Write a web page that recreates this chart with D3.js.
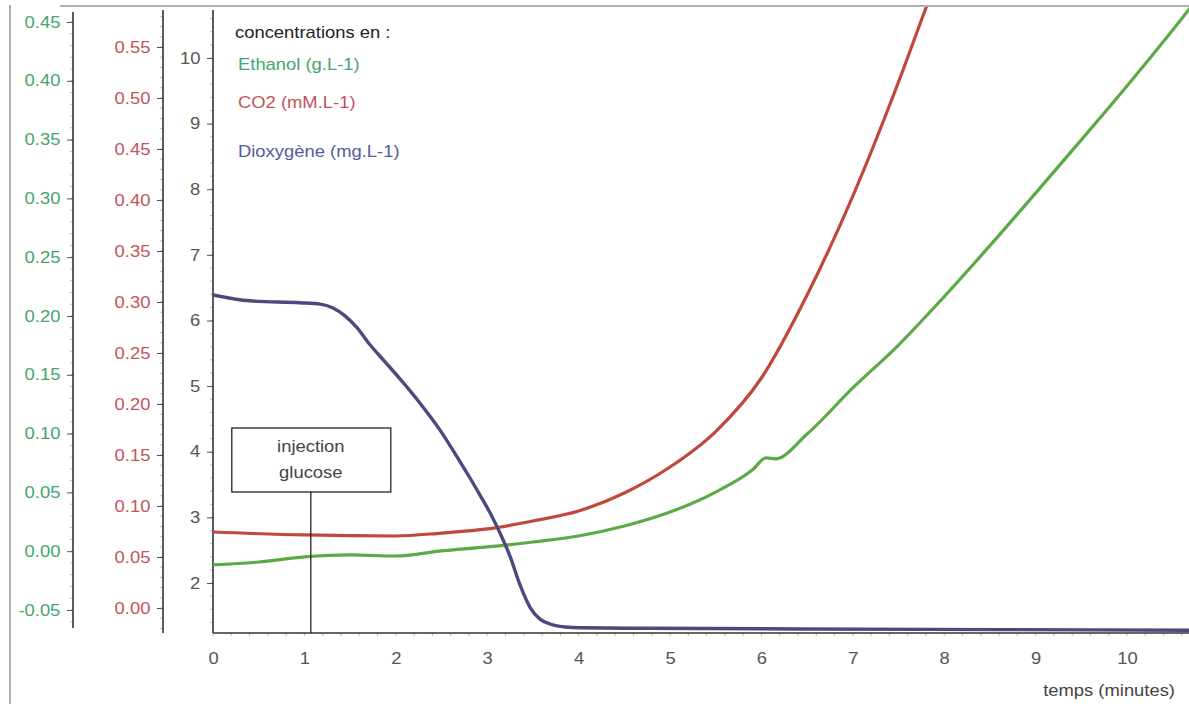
<!DOCTYPE html>
<html>
<head>
<meta charset="utf-8">
<script src="https://cdn.jsdelivr.net/npm/d3@7"></script>
<style>
  body { margin: 0; background: #fff; }
  text { font-family: "Liberation Sans", Arial, sans-serif; }
</style>
</head>
<body>
<svg id="chart" width="1189" height="704"></svg>
<script>
// values
const o2Time = [0, 0.405, 0.952, 1.171, 1.313, 1.444, 1.575, 1.718, 1.882, 2.046, 2.265, 2.484, 2.702, 2.812, 2.921, 3.031, 3.140, 3.249, 3.359, 3.468, 3.578, 3.687, 3.851, 4.015, 4.78, 6.42, 8.61, 10.7];
const o2Values = [6.39, 6.30, 6.27, 6.25, 6.19, 6.07, 5.89, 5.63, 5.37, 5.11, 4.74, 4.33, 3.85, 3.60, 3.34, 3.07, 2.76, 2.41, 1.97, 1.63, 1.45, 1.375, 1.33, 1.317, 1.31, 1.30, 1.29, 1.28];

const co2Time = [0, 1, 2, 2.5, 3, 3.5, 4, 4.5, 5, 5.5, 6, 6.5, 7, 7.5, 7.8, 8];
const co2Values = [0.0745, 0.0716, 0.0706, 0.0735, 0.0775, 0.0853, 0.0951, 0.1127, 0.1382, 0.173, 0.2255, 0.3069, 0.4039, 0.5157, 0.5882, 0.635];

const ethTime = [0, 0.5, 1, 1.5, 2, 2.5, 3, 3.5, 4, 4.5, 5, 5.5, 5.9, 6.05, 6.15, 6.5, 7, 7.5, 8, 8.5, 9, 9.5, 10, 10.5, 10.7];
const ethValues = [-0.0117, -0.0092, -0.0049, -0.0032, -0.0041, 0.0002, 0.0036, 0.0078, 0.0129, 0.0214, 0.0333, 0.0503, 0.0690, 0.0793, 0.0785, 0.0997, 0.1388, 0.1753, 0.2165, 0.2598, 0.3045, 0.3498, 0.3956, 0.4432, 0.4628];

const xTicks = [0, 1, 2, 3, 4, 5, 6, 7, 8, 9, 10];
const o2Ticks = [2, 3, 4, 5, 6, 7, 8, 9, 10];
const co2Ticks = [0, 0.05, 0.10, 0.15, 0.20, 0.25, 0.30, 0.35, 0.40, 0.45, 0.50, 0.55];
const ethTicks = [-0.05, 0, 0.05, 0.10, 0.15, 0.20, 0.25, 0.30, 0.35, 0.40, 0.45];
const injectionTime = 1.07;

const green = "#5aab47", red = "#c0473a", blue = "#4b4a7e";
const greenText = "#46a56c", redText = "#c4535a", blueText = "#545a9c";
const stretch = 1.15; // scan is a bit wider than tall

const svg = d3.select("#chart");

const x = d3.scaleLinear().domain([0, 10]).range([213, 1127]);
const yO2 = d3.scaleLinear().domain([2, 10]).range([583, 58]);
const yCo2 = d3.scaleLinear().domain([0, 0.55]).range([608, 47]);
const yEth = d3.scaleLinear().domain([-0.05, 0.45]).range([610, 22]);

const fmt2 = v => d3.format(".2f")(v).replace("\u2212", "-");

// frame of the scan
svg.append("line").attr("x1", 60).attr("x2", 1189).attr("y1", 6).attr("y2", 6)
  .attr("stroke", "#999").attr("stroke-width", 1.5);
svg.append("line").attr("x1", 10).attr("x2", 10).attr("y1", 5).attr("y2", 704)
  .attr("stroke", "#999").attr("stroke-width", 1.5);

function drawAxis(scale, ticks, minorStep, xPos, top, bottom, color, format) {
  const g = svg.append("g").attr("transform", `translate(${xPos},0)`);
  const minor = d3.range(Math.ceil(scale.invert(bottom) / minorStep) * minorStep, scale.invert(top), minorStep);
  g.selectAll(".minor").data(minor).join("line")
    .attr("x1", -3).attr("x2", 0)
    .attr("y1", d => scale(d)).attr("y2", d => scale(d))
    .attr("stroke", "#bbb").attr("stroke-width", 1);
  const axis = d3.axisLeft(scale).tickValues(ticks).tickFormat(format).tickSize(6).tickPadding(5);
  g.call(axis);
  g.select(".domain").remove();
  g.selectAll(".tick line").attr("stroke", "#555");
  g.selectAll(".tick text")
    .attr("fill", color)
    .style("font-size", "16px")
    .attr("transform", `scale(${stretch},1)`);
  g.append("line").attr("x1", 0).attr("x2", 0).attr("y1", top).attr("y2", bottom)
    .attr("stroke", "#333").attr("stroke-width", 1.6);
}

drawAxis(yEth, ethTicks, 0.01, 73, 12, 628, greenText, fmt2);
drawAxis(yCo2, co2Ticks, 0.01, 163, 10, 633, redText, fmt2);
drawAxis(yO2, o2Ticks, 0.2, 213, 10, 633, "#555", d3.format("d"));

// x axis
const xg = svg.append("g").attr("transform", "translate(0,633)");
xg.selectAll(".minor").data(d3.range(0, 10.8, 0.2)).join("line")
  .attr("x1", d => x(d)).attr("x2", d => x(d)).attr("y1", 0).attr("y2", 3)
  .attr("stroke", "#bbb");
xg.call(d3.axisBottom(x).tickValues(xTicks).tickFormat(d3.format("d")).tickSize(0).tickPadding(20));
xg.select(".domain").remove();
xg.selectAll(".tick text").attr("fill", "#555").style("font-size", "16px")
  .attr("transform", `scale(${stretch},1)`);
xg.append("line").attr("x1", 213).attr("x2", 1189).attr("y1", 0).attr("y2", 0)
  .attr("stroke", "#333").attr("stroke-width", 1.6);

svg.append("g").attr("transform", "translate(1175,696)")
  .append("text").attr("text-anchor", "end").attr("fill", "#444")
  .style("font-size", "16px").attr("transform", `scale(${stretch},1)`)
  .text("temps (minutes)");

// curves
svg.append("clipPath").attr("id", "plot")
  .append("rect").attr("x", 213).attr("y", 7).attr("width", 976).attr("height", 626);

const plot = svg.append("g").attr("clip-path", "url(#plot)");

function curve(times, values, yScale, color, width) {
  const line = d3.line()
    .x((d, i) => x(times[i]))
    .y(d => yScale(d))
    .curve(d3.curveMonotoneX);
  plot.append("path").datum(values)
    .attr("d", line)
    .attr("fill", "none")
    .attr("stroke", color)
    .attr("stroke-width", width)
    .attr("stroke-linejoin", "round");
}

curve(ethTime, ethValues, yEth, green, 3.2);
curve(co2Time, co2Values, yCo2, red, 3.2);
curve(o2Time, o2Values, yO2, blue, 3.4);

// legend
const legend = [
  { label: "concentrations en :", color: "#222", y: 38, x: 235 },
  { label: "Ethanol (g.L-1)", color: greenText, y: 70, x: 238 },
  { label: "CO2 (mM.L-1)", color: redText, y: 108, x: 238 },
  { label: "Dioxygène (mg.L-1)", color: blueText, y: 157, x: 238 }
];
legend.forEach(d => {
  svg.append("g").attr("transform", `translate(${d.x},${d.y})`)
    .append("text").attr("fill", d.color).style("font-size", "16px")
    .attr("transform", `scale(${stretch},1)`)
    .text(d.label);
});

// injection annotation
const ix = x(injectionTime);
svg.append("line").attr("x1", ix).attr("x2", ix).attr("y1", 492).attr("y2", 633)
  .attr("stroke", "#222").attr("stroke-width", 1.3);
svg.append("rect").attr("x", ix - 79).attr("y", 428).attr("width", 159).attr("height", 64)
  .attr("fill", "#fff").attr("stroke", "#222").attr("stroke-width", 1.3);
["injection", "glucose"].forEach((s, i) => {
  svg.append("g").attr("transform", `translate(${ix},${452 + i * 26})`)
    .append("text").attr("text-anchor", "middle").attr("fill", "#444")
    .style("font-size", "16px").attr("transform", `scale(${stretch},1)`)
    .text(s);
});
</script>
</body>
</html>
